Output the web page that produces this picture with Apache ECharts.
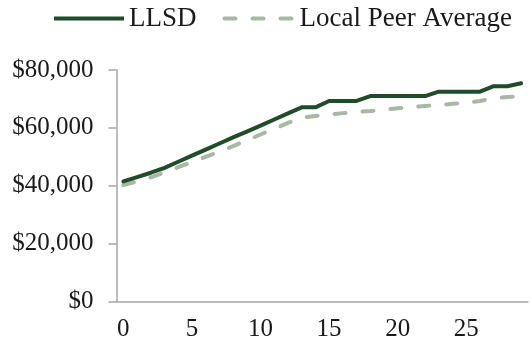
<!DOCTYPE html>
<html>
<head>
<meta charset="utf-8">
<script src="https://cdn.jsdelivr.net/npm/echarts@6/dist/echarts.min.js"></script>
<style>
html,body{margin:0;padding:0;background:#fff;}
#chart{width:532px;height:347px;}
</style>
</head>
<body>
<div id="chart"></div>
<script>
var categories = [0,1,2,3,4,5,6,7,8,9,10,11,12,13,14,15,16,17,18,19,20,21,22,23,24,25,26,27,28,29];
var llsd = [41500,43000,44500,46200,48300,50400,52500,54600,56700,58700,60800,62900,65000,67100,67100,69300,69300,69300,71000,71000,71000,71000,71000,72500,72500,72500,72500,74400,74400,75400];
var peerAvg = [40200,41500,42900,44600,46400,48200,50000,51800,53700,55700,57700,59700,61700,63600,64100,64600,65100,65500,65800,66300,66800,67200,67600,67900,68300,68700,69300,70200,70700,70900];
var yTicks = {min:0, max:80000, interval:20000};
var seriesNames = ['LLSD','Local Peer Average'];

var font = 'Liberation Serif';
var darkGreen = '#1f4d2a';
var lightGreen = '#a8b8a5';
var chart = echarts.init(document.getElementById('chart'), null, {renderer:'canvas'});
chart.setOption({
  animation:false,
  backgroundColor:'#ffffff',
  legend:{
    left:52, top:5, padding:0,
    itemWidth:70, itemHeight:14, itemGap:26,
    itemStyle:{opacity:0},
    textStyle:{fontFamily:font, fontSize:27, color:'#1a1a1a'},
    data:[
      {name:seriesNames[0], lineStyle:{width:4, color:darkGreen, type:'solid', cap:'butt'}},
      {name:seriesNames[1], lineStyle:{width:4, color:lightGreen, type:[11,17], cap:'round'}}
    ]
  },
  grid:{left:116.5, right:4, top:70, bottom:45.5, containLabel:false},
  xAxis:{
    type:'category', data:categories, boundaryGap:true,
    axisLine:{lineStyle:{color:'#a6a6a6', width:1.5}},
    axisTick:{interval:4, length:7, lineStyle:{color:'#a6a6a6', width:1.5}},
    axisLabel:{interval:4, margin:15, fontFamily:font, fontSize:25, color:'#1a1a1a'},
    splitLine:{show:false}
  },
  yAxis:{
    type:'value', min:yTicks.min, max:yTicks.max, interval:yTicks.interval,
    axisLine:{show:true, lineStyle:{color:'#a6a6a6', width:1.5}},
    axisTick:{show:true, length:8, lineStyle:{color:'#a6a6a6', width:1.5}},
    axisLabel:{margin:23, fontFamily:font, fontSize:25, color:'#1a1a1a',
      formatter:function(v){return '$'+v.toLocaleString('en-US');}},
    splitLine:{show:false}
  },
  series:[
    {name:seriesNames[0], type:'line', data:llsd, symbol:'none', z:3,
     lineStyle:{color:darkGreen, width:4, cap:'round', join:'round'},
     itemStyle:{color:darkGreen}},
    {name:seriesNames[1], type:'line', data:peerAvg, symbol:'none', z:2,
     lineStyle:{color:lightGreen, width:4, type:[11,17], cap:'round', join:'round'},
     itemStyle:{color:lightGreen}}
  ]
});
</script>
</body>
</html>
